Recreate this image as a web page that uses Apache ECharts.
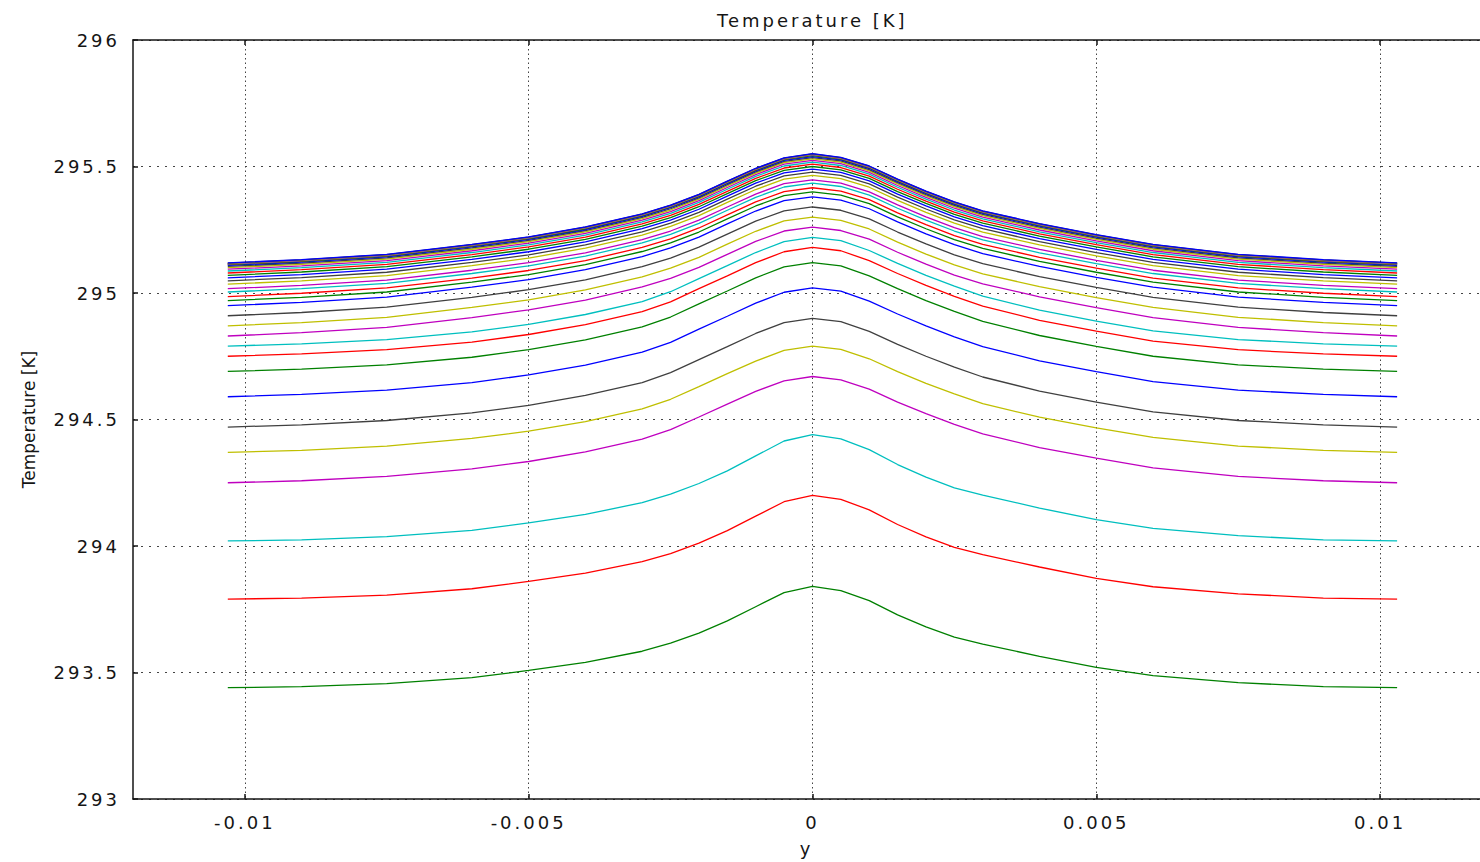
<!DOCTYPE html>
<html>
<head>
<meta charset="utf-8">
<title>Temperature [K]</title>
<script src="https://cdn.jsdelivr.net/npm/echarts@6/dist/echarts.min.js"></script>
<style>
  html, body { margin: 0; padding: 0; background: #ffffff; }
  #chart { width: 1480px; height: 862px; }
  /* wide, spaced lettering for ticks and title */
  #chart text { letter-spacing: 3px; }
  /* the rotated axis name keeps normal spacing */
  #chart text[transform^="matrix(0,"] { letter-spacing: 0px; }
</style>
</head>
<body>
<div id="chart"></div>
<script>
// positions across the channel (y coordinate)
const yPos = [-0.0103, -0.009, -0.0075, -0.006, -0.005, -0.004, -0.003, -0.0025, -0.002, -0.0015, -0.001, -0.0005, 0,
              0.0005, 0.001, 0.0015, 0.002, 0.0025, 0.003, 0.004, 0.005, 0.006, 0.0075, 0.009, 0.0103];

// temperature profiles, one per saved time step
const t01 = [293.44, 293.444, 293.456, 293.48, 293.508, 293.54, 293.584, 293.616, 293.656, 293.704, 293.76, 293.816, 293.84, 293.824, 293.784, 293.728, 293.68, 293.64, 293.612, 293.564, 293.52, 293.488, 293.46, 293.444, 293.44];
const t02 = [293.79, 293.794, 293.806, 293.831, 293.86, 293.893, 293.938, 293.97, 294.011, 294.061, 294.118, 294.175, 294.2, 294.184, 294.143, 294.085, 294.036, 293.995, 293.966, 293.917, 293.872, 293.839, 293.811, 293.794, 293.79];
const t03 = [294.02, 294.024, 294.037, 294.062, 294.091, 294.125, 294.171, 294.205, 294.247, 294.297, 294.356, 294.415, 294.44, 294.423, 294.381, 294.322, 294.272, 294.23, 294.201, 294.15, 294.104, 294.07, 294.041, 294.024, 294.02];
const t04 = [294.25, 294.258, 294.275, 294.305, 294.334, 294.372, 294.422, 294.46, 294.51, 294.561, 294.611, 294.653, 294.67, 294.657, 294.62, 294.569, 294.523, 294.481, 294.443, 294.389, 294.347, 294.309, 294.275, 294.258, 294.25];
const t05 = [294.37, 294.378, 294.395, 294.425, 294.454, 294.492, 294.542, 294.58, 294.63, 294.681, 294.731, 294.773, 294.79, 294.777, 294.74, 294.689, 294.643, 294.601, 294.563, 294.509, 294.467, 294.429, 294.395, 294.378, 294.37];
const t06 = [294.47, 294.479, 294.496, 294.526, 294.556, 294.595, 294.646, 294.685, 294.737, 294.788, 294.84, 294.883, 294.9, 294.887, 294.848, 294.797, 294.75, 294.707, 294.668, 294.612, 294.569, 294.53, 294.496, 294.479, 294.47];
const t07 = [294.59, 294.599, 294.616, 294.646, 294.676, 294.715, 294.766, 294.805, 294.857, 294.908, 294.96, 295.003, 295.02, 295.007, 294.968, 294.917, 294.87, 294.827, 294.788, 294.732, 294.689, 294.65, 294.616, 294.599, 294.59];
const t08 = [294.69, 294.699, 294.716, 294.746, 294.776, 294.815, 294.866, 294.905, 294.957, 295.008, 295.06, 295.103, 295.12, 295.107, 295.068, 295.017, 294.97, 294.927, 294.888, 294.832, 294.789, 294.75, 294.716, 294.699, 294.69];
const t09 = [294.75, 294.759, 294.776, 294.806, 294.836, 294.875, 294.926, 294.965, 295.017, 295.068, 295.12, 295.163, 295.18, 295.167, 295.128, 295.077, 295.03, 294.987, 294.948, 294.892, 294.849, 294.81, 294.776, 294.759, 294.75];
const t10 = [294.79, 294.799, 294.816, 294.846, 294.876, 294.915, 294.966, 295.005, 295.057, 295.108, 295.16, 295.203, 295.22, 295.207, 295.168, 295.117, 295.07, 295.027, 294.988, 294.932, 294.889, 294.85, 294.816, 294.799, 294.79];
const t11 = [294.83, 294.843, 294.864, 294.903, 294.933, 294.972, 295.024, 295.058, 295.101, 295.153, 295.204, 295.245, 295.26, 295.247, 295.213, 295.161, 295.114, 295.071, 295.036, 294.985, 294.942, 294.903, 294.864, 294.843, 294.83];
const t12 = [294.87, 294.883, 294.904, 294.943, 294.973, 295.012, 295.064, 295.098, 295.141, 295.193, 295.244, 295.285, 295.3, 295.287, 295.253, 295.201, 295.154, 295.111, 295.076, 295.025, 294.982, 294.943, 294.904, 294.883, 294.87];
const t13 = [294.91, 294.923, 294.944, 294.983, 295.013, 295.052, 295.104, 295.138, 295.181, 295.233, 295.284, 295.325, 295.34, 295.327, 295.293, 295.241, 295.194, 295.151, 295.116, 295.065, 295.022, 294.983, 294.944, 294.923, 294.91];
const t14 = [294.95, 294.963, 294.984, 295.023, 295.053, 295.092, 295.144, 295.178, 295.221, 295.273, 295.324, 295.365, 295.38, 295.367, 295.333, 295.281, 295.234, 295.191, 295.156, 295.105, 295.062, 295.023, 294.984, 294.963, 294.95];
const t15 = [294.97, 294.983, 295.004, 295.043, 295.073, 295.112, 295.164, 295.198, 295.241, 295.293, 295.344, 295.385, 295.4, 295.387, 295.353, 295.301, 295.254, 295.211, 295.176, 295.125, 295.082, 295.043, 295.004, 294.983, 294.97];
const t16 = [294.986, 294.999, 295.02, 295.059, 295.089, 295.128, 295.18, 295.214, 295.257, 295.309, 295.36, 295.401, 295.416, 295.403, 295.369, 295.317, 295.27, 295.227, 295.192, 295.141, 295.098, 295.059, 295.02, 294.999, 294.986];
const t17 = [295.004, 295.017, 295.038, 295.077, 295.107, 295.146, 295.198, 295.232, 295.275, 295.327, 295.378, 295.419, 295.434, 295.421, 295.387, 295.335, 295.288, 295.245, 295.21, 295.159, 295.116, 295.077, 295.038, 295.017, 295.004];
const t18 = [295.017, 295.03, 295.051, 295.09, 295.12, 295.159, 295.211, 295.245, 295.288, 295.34, 295.391, 295.432, 295.447, 295.434, 295.4, 295.348, 295.301, 295.258, 295.223, 295.172, 295.129, 295.09, 295.051, 295.03, 295.017];
const t19 = [295.035, 295.048, 295.069, 295.108, 295.138, 295.177, 295.229, 295.263, 295.306, 295.358, 295.409, 295.45, 295.465, 295.452, 295.418, 295.366, 295.319, 295.276, 295.241, 295.19, 295.147, 295.108, 295.069, 295.048, 295.035];
const t20 = [295.048, 295.061, 295.082, 295.121, 295.151, 295.19, 295.242, 295.276, 295.319, 295.371, 295.422, 295.463, 295.478, 295.465, 295.431, 295.379, 295.332, 295.289, 295.254, 295.203, 295.16, 295.121, 295.082, 295.061, 295.048];
const t21 = [295.06, 295.073, 295.094, 295.133, 295.163, 295.202, 295.254, 295.288, 295.331, 295.383, 295.434, 295.475, 295.49, 295.477, 295.443, 295.391, 295.344, 295.301, 295.266, 295.215, 295.172, 295.133, 295.094, 295.073, 295.06];
const t22 = [295.07, 295.083, 295.104, 295.143, 295.173, 295.212, 295.264, 295.298, 295.341, 295.393, 295.444, 295.485, 295.5, 295.487, 295.453, 295.401, 295.354, 295.311, 295.276, 295.225, 295.182, 295.143, 295.104, 295.083, 295.07];
const t23 = [295.079, 295.092, 295.113, 295.152, 295.182, 295.221, 295.273, 295.307, 295.35, 295.402, 295.453, 295.494, 295.509, 295.496, 295.462, 295.41, 295.363, 295.32, 295.285, 295.234, 295.191, 295.152, 295.113, 295.092, 295.079];
const t24 = [295.087, 295.1, 295.121, 295.16, 295.19, 295.229, 295.281, 295.315, 295.358, 295.41, 295.461, 295.502, 295.517, 295.504, 295.47, 295.418, 295.371, 295.328, 295.293, 295.242, 295.199, 295.16, 295.121, 295.1, 295.087];
const t25 = [295.094, 295.107, 295.128, 295.167, 295.197, 295.236, 295.288, 295.322, 295.365, 295.417, 295.468, 295.509, 295.524, 295.511, 295.477, 295.425, 295.378, 295.335, 295.3, 295.249, 295.206, 295.167, 295.128, 295.107, 295.094];
const t26 = [295.1, 295.113, 295.134, 295.173, 295.203, 295.242, 295.294, 295.328, 295.371, 295.423, 295.474, 295.515, 295.53, 295.517, 295.483, 295.431, 295.384, 295.341, 295.306, 295.255, 295.212, 295.173, 295.134, 295.113, 295.1];
const t27 = [295.105, 295.118, 295.139, 295.178, 295.208, 295.247, 295.299, 295.333, 295.376, 295.428, 295.479, 295.52, 295.535, 295.522, 295.488, 295.436, 295.389, 295.346, 295.311, 295.26, 295.217, 295.178, 295.139, 295.118, 295.105];
const t28 = [295.109, 295.122, 295.143, 295.182, 295.212, 295.251, 295.303, 295.337, 295.38, 295.432, 295.483, 295.524, 295.539, 295.526, 295.492, 295.44, 295.393, 295.35, 295.315, 295.264, 295.221, 295.182, 295.143, 295.122, 295.109];
const t29 = [295.112, 295.125, 295.146, 295.185, 295.215, 295.254, 295.306, 295.34, 295.383, 295.435, 295.486, 295.527, 295.543, 295.529, 295.495, 295.443, 295.396, 295.353, 295.318, 295.267, 295.224, 295.185, 295.146, 295.125, 295.112];
const t30 = [295.114, 295.127, 295.148, 295.187, 295.217, 295.256, 295.308, 295.342, 295.385, 295.437, 295.488, 295.529, 295.546, 295.531, 295.497, 295.445, 295.398, 295.355, 295.32, 295.269, 295.226, 295.187, 295.148, 295.127, 295.114];
const t31 = [295.115, 295.128, 295.149, 295.188, 295.218, 295.257, 295.309, 295.343, 295.386, 295.438, 295.489, 295.53, 295.547, 295.532, 295.498, 295.446, 295.399, 295.356, 295.321, 295.27, 295.227, 295.188, 295.149, 295.128, 295.115];
const t32 = [295.116, 295.129, 295.15, 295.189, 295.219, 295.258, 295.31, 295.344, 295.387, 295.439, 295.49, 295.531, 295.548, 295.533, 295.499, 295.447, 295.4, 295.357, 295.322, 295.271, 295.228, 295.189, 295.15, 295.129, 295.116];
const t33 = [295.117, 295.13, 295.151, 295.19, 295.22, 295.259, 295.311, 295.345, 295.388, 295.44, 295.491, 295.532, 295.549, 295.534, 295.5, 295.448, 295.401, 295.358, 295.323, 295.272, 295.229, 295.19, 295.151, 295.13, 295.117];
const t34 = [295.118, 295.131, 295.152, 295.191, 295.221, 295.26, 295.312, 295.346, 295.389, 295.441, 295.492, 295.533, 295.55, 295.535, 295.501, 295.449, 295.402, 295.359, 295.324, 295.273, 295.23, 295.191, 295.152, 295.131, 295.118];
const t35 = [295.119, 295.132, 295.153, 295.192, 295.222, 295.261, 295.313, 295.347, 295.39, 295.442, 295.493, 295.534, 295.551, 295.536, 295.502, 295.45, 295.403, 295.36, 295.325, 295.274, 295.231, 295.192, 295.153, 295.132, 295.119];

const profiles = [t01, t02, t03, t04, t05, t06, t07, t08, t09, t10,
                  t11, t12, t13, t14, t15, t16, t17, t18, t19, t20,
                  t21, t22, t23, t24, t25, t26, t27, t28, t29, t30,
                  t31, t32, t33, t34, t35];

// tick labels
const xTicks = [-0.01, -0.005, 0, 0.005, 0.01];
const xTickLabels = ['-0.01', '-0.005', '0', '0.005', '0.01'];

// line colour cycle
const palette = ['#008000', '#ff0000', '#00bfbf', '#bf00bf', '#bfbf00', '#404040', '#0000ff'];

const FONT = 'DejaVu Sans';
const INK = '#151515';
const X_MIN = -0.01197;
const X_MAX = 0.01176;

const series = profiles.map((temps, i) => ({
  type: 'line',
  symbol: 'none',
  silent: true,
  lineStyle: { color: palette[i % palette.length], width: 1.3 },
  data: yPos.map((y, k) => [y, temps[k]])
}));

const chart = echarts.init(document.getElementById('chart'), null, { renderer: 'svg' });

chart.setOption({
  animation: false,
  backgroundColor: '#ffffff',
  title: {
    text: 'Temperature [K]',
    left: 712,
    top: 6,
    textStyle: { fontFamily: FONT, fontSize: 18, fontWeight: 'normal', color: INK }
  },
  grid: { left: 133, right: 0, top: 40, bottom: 62, show: false },
  xAxis: [
    {
      type: 'value',
      position: 'bottom',
      min: X_MIN,
      max: X_MAX,
      name: 'y',
      nameLocation: 'middle',
      nameGap: 40,
      nameTextStyle: { fontFamily: FONT, fontSize: 18, color: INK },
      axisLine: { show: true, onZero: false, lineStyle: { color: INK, width: 1.5 } },
      axisTick: { show: true, inside: true, length: 5, customValues: xTicks, lineStyle: { color: INK, width: 1.5 } },
      axisLabel: {
        show: true, margin: 14, customValues: xTicks,
        fontFamily: FONT, fontSize: 18, color: INK,
        formatter: v => xTickLabels[xTicks.findIndex(t => Math.abs(t - v) < 1e-9)] ?? ''
      },
      splitLine: { show: true, lineStyle: { color: '#444444', width: 1, type: [1.5, 3] } }
    },
    {
      type: 'value',
      position: 'top',
      min: X_MIN,
      max: X_MAX,
      axisLine: { show: true, onZero: false, lineStyle: { color: INK, width: 1.5 } },
      axisTick: { show: true, inside: true, length: 5, customValues: xTicks, lineStyle: { color: INK, width: 1.5 } },
      axisLabel: { show: false },
      splitLine: { show: false }
    }
  ],
  yAxis: {
    type: 'value',
    min: 293,
    max: 296,
    interval: 0.5,
    name: 'Temperature [K]',
    nameLocation: 'middle',
    nameGap: 96,
    nameTextStyle: { fontFamily: FONT, fontSize: 17, color: INK },
    axisLine: { show: true, onZero: false, lineStyle: { color: INK, width: 1.5 } },
    axisTick: { show: true, inside: true, length: 5, lineStyle: { color: INK, width: 1.5 } },
    axisLabel: { margin: 13, fontFamily: FONT, fontSize: 18, color: INK },
    splitLine: { show: true, lineStyle: { color: '#444444', width: 1, type: [2, 6] } }
  },
  series: series
});
</script>
</body>
</html>
